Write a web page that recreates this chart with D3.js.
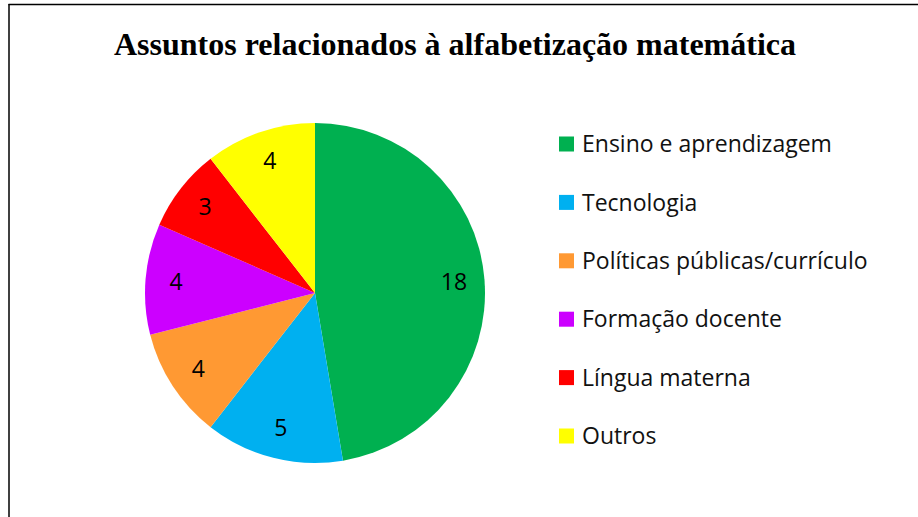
<!DOCTYPE html>
<html>
<head>
<meta charset="utf-8">
<script src="https://cdn.jsdelivr.net/npm/d3@7"></script>
<style>
  body { margin: 0; background: #fff; }
</style>
</head>
<body>
<div id="chart-area"></div>
<script>
const categories = ["Ensino e aprendizagem", "Tecnologia", "Políticas públicas/currículo", "Formação docente", "Língua materna", "Outros"]
const values = [18, 5, 4, 4, 3, 4]
const colors = ["#00B050", "#00B0F0", "#FF9933", "#CC00FF", "#FF0000", "#FFFF00"]

const width = 918
const height = 517
const radius = 170
const center = { x: 315, y: 293 }

const svg = d3.select("#chart-area").append("svg")
  .attr("width", width)
  .attr("height", height)

// moldura (só topo e esquerda aparecem)
svg.append("line")
  .attr("x1", 8.5).attr("y1", 4.5).attr("x2", width).attr("y2", 4.5)
  .attr("stroke", "#000").attr("stroke-width", 1.5)
svg.append("line")
  .attr("x1", 9).attr("y1", 4).attr("x2", 9).attr("y2", height)
  .attr("stroke", "#000").attr("stroke-width", 1.5)

svg.append("text")
  .attr("x", 455)
  .attr("y", 55)
  .attr("text-anchor", "middle")
  .attr("font-family", "'Liberation Serif', 'Times New Roman', serif")
  .attr("font-weight", "bold")
  .attr("font-size", "32px")
  .text("Assuntos relacionados à alfabetização matemática")

const data = categories.map((c, i) => ({ name: c, value: values[i], color: colors[i] }))

const pie = d3.pie()
  .value(d => d.value)
  .sort(null)

const arc = d3.arc()
  .innerRadius(0)
  .outerRadius(radius)

const labelArc = d3.arc()
  .innerRadius(radius * 0.82)
  .outerRadius(radius * 0.82)

const g = svg.append("g")
  .attr("transform", `translate(${center.x}, ${center.y})`)

const slices = g.selectAll("g.slice")
  .data(pie(data))
  .enter().append("g")
  .attr("class", "slice")

slices.append("path")
  .attr("d", arc)
  .attr("fill", d => d.data.color)

slices.append("text")
  .attr("transform", d => `translate(${labelArc.centroid(d)})`)
  .attr("text-anchor", "middle")
  .attr("dy", "0.35em")
  .attr("font-family", "'Open Sans', sans-serif")
  .attr("font-size", "23px")
  .text(d => d.data.value)

// legenda
const legend = svg.append("g")
  .attr("transform", "translate(559, 144)")

const items = legend.selectAll("g")
  .data(data)
  .enter().append("g")
  .attr("transform", (d, i) => `translate(0, ${i * 58.4})`)

items.append("rect")
  .attr("x", 0)
  .attr("y", -7.5)
  .attr("width", 15)
  .attr("height", 15)
  .attr("fill", d => d.color)

items.append("text")
  .attr("x", 23)
  .attr("dy", "0.36em")
  .attr("font-family", "'Open Sans', sans-serif")
  .attr("font-size", "23px")
  .attr("fill", "#111")
  .text(d => d.name)
</script>
</body>
</html>
